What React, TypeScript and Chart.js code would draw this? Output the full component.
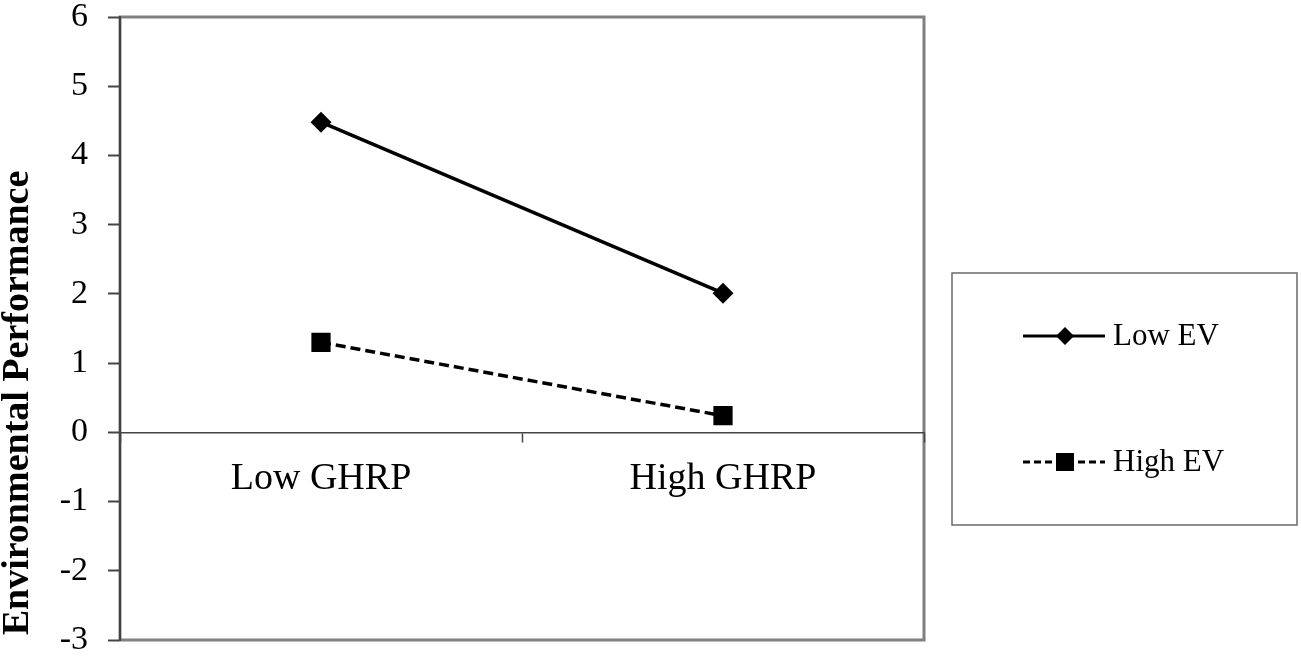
import React, { useEffect, useRef } from "react";
import { Chart, registerables } from "chart.js";

Chart.register(...registerables);

const categories = ["Low GHRP", "High GHRP"];
const lowEV = [4.48, 2.01];
const highEV = [1.3, 0.24];
const seriesNames = ["Low EV", "High EV"];
const yMin = -3;
const yMax = 6;
const yTitle = "Environmental Performance";

const SERIF = "'Liberation Serif', 'Times New Roman', serif";

const decorPlugin = {
  id: "decor",
  beforeDraw(chart: any) {
    const { ctx, chartArea } = chart;
    ctx.save();
    ctx.strokeStyle = "#808080";
    ctx.lineWidth = 3;
    ctx.strokeRect(chartArea.left, chartArea.top, chartArea.right - chartArea.left, chartArea.bottom - chartArea.top);
    ctx.restore();
  },
  afterDraw(chart: any) {
    const { ctx } = chart;
    ctx.save();
    // y axis title
    ctx.translate(18, 403);
    ctx.rotate(-Math.PI / 2);
    ctx.font = `bold 38px ${SERIF}`;
    ctx.fillStyle = "#000";
    ctx.textAlign = "center";
    ctx.textBaseline = "middle";
    ctx.fillText(yTitle, 0, 0);
    ctx.restore();

    // legend box
    const bx = 952, by = 273, bw = 345, bh = 252;
    ctx.save();
    ctx.strokeStyle = "#6a6a6a";
    ctx.lineWidth = 1.5;
    ctx.strokeRect(bx, by, bw, bh);
    const rows = [336, 462];
    chart.data.datasets.forEach((ds: any, i: number) => {
      const y = rows[i];
      ctx.save();
      ctx.strokeStyle = ds.borderColor;
      ctx.lineWidth = 3;
      ctx.setLineDash(i === 0 ? [] : [7, 4]);
      ctx.beginPath();
      ctx.moveTo(1023, y);
      ctx.lineTo(1105, y);
      ctx.stroke();
      ctx.restore();
      ctx.fillStyle = ds.pointBackgroundColor;
      ctx.beginPath();
      if (ds.pointStyle === "rectRot") {
        const r = 9;
        ctx.moveTo(1065 - r, y);
        ctx.lineTo(1065, y - r);
        ctx.lineTo(1065 + r, y);
        ctx.lineTo(1065, y + r);
        ctx.closePath();
      } else {
        ctx.rect(1065 - 9, y - 9, 18, 18);
      }
      ctx.fill();
      ctx.font = `31px ${SERIF}`;
      ctx.fillStyle = "#000";
      ctx.textAlign = "left";
      ctx.textBaseline = "middle";
      ctx.fillText(ds.label, 1113, y + 1);
    });
    ctx.restore();
  },
};

const zeroPad = (scale: any) => {
  scale.paddingTop = 0;
  scale.paddingBottom = 0;
  scale.paddingLeft = 0;
  scale.paddingRight = 0;
};

export default function App() {
  const ref = useRef<HTMLCanvasElement | null>(null);
  useEffect(() => {
    if (!ref.current) return;
    const chart = new Chart(ref.current, {
      type: "line",
      data: {
        labels: categories,
        datasets: [
          {
            label: seriesNames[0],
            data: lowEV,
            borderColor: "#000",
            backgroundColor: "#000",
            borderWidth: 3.5,
            pointStyle: "rectRot",
            pointRadius: 10.5,
            pointBackgroundColor: "#000",
            pointBorderColor: "#000",
            pointBorderWidth: 0,
          },
          {
            label: seriesNames[1],
            data: highEV,
            borderColor: "#000",
            backgroundColor: "#000",
            borderWidth: 3.5,
            borderDash: [10, 5],
            pointStyle: "rect",
            pointRadius: 13.6,
            pointBackgroundColor: "#000",
            pointBorderColor: "#000",
            pointBorderWidth: 0,
          },
        ],
      },
      options: {
        animation: false,
        responsive: false,
        devicePixelRatio: 1,
        layout: { padding: { left: 0, top: 17, right: 377, bottom: 16 } },
        plugins: { legend: { display: false }, tooltip: { enabled: false } },
        scales: {
          x: {
            type: "category",
            offset: true,
            position: { y: 0 } as any,
            afterFit: zeroPad,
            grid: { drawOnChartArea: false, offset: true, tickLength: 9, tickColor: "#444", tickWidth: 1.5 },
            border: { color: "#444", width: 1.5 },
            ticks: { font: { family: SERIF, size: 38 }, color: "#000", padding: 15, maxRotation: 0 },
          },
          y: {
            min: yMin,
            max: yMax,
            afterFit: (scale: any) => {
              scale.width = 120;
              zeroPad(scale);
            },
            grid: { drawOnChartArea: false, tickLength: 12, tickColor: "#444", tickWidth: 2 },
            border: { color: "#444", width: 2 },
            ticks: { stepSize: 1, font: { family: SERIF, size: 34 }, color: "#000", padding: 20 },
          },
        },
      },
      plugins: [decorPlugin],
    });
    return () => chart.destroy();
  }, []);
  return (
    <div style={{ position: "absolute", left: 0, top: 0, width: 1301, height: 656, background: "#fff" }}>
      <canvas ref={ref} width={1301} height={656} />
    </div>
  );
}
